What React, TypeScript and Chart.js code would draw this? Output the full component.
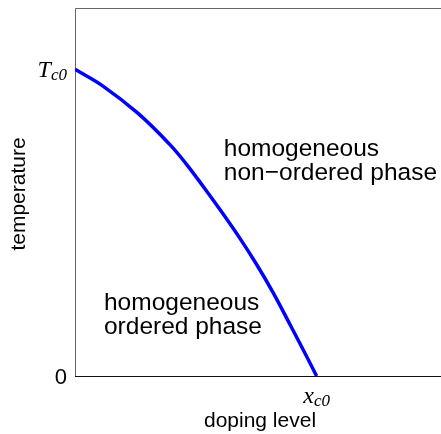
import React, { useEffect, useRef } from "react";
import { Chart, registerables } from "chart.js";

Chart.register(...registerables);

// curve (doping level relative to x_c0, temperature relative to T_c0)
const dopingLevels = [0, 0.12, 0.26, 0.39, 0.46, 0.53, 0.6, 0.68, 0.75, 0.82, 0.89, 0.96, 1.0];
const temperatures = [1.0, 0.943, 0.857, 0.757, 0.692, 0.619, 0.543, 0.452, 0.366, 0.272, 0.168, 0.062, 0];

const yTickValues = [0, 1];
const yTickMain = ["0", "T"];
const yTickSub = ["", "c0"];
const xTickValues = [1];
const xTickMain = ["x"];
const xTickSub = ["c0"];

const xAxisTitle = "doping level";
const yAxisTitle = "temperature";

const upperRegionLines = ["homogeneous", "non\u2212ordered phase"];
const upperRegionAnchor = [0.616, 0.717];
const lowerRegionLines = ["homogeneous", "ordered phase"];
const lowerRegionAnchor = [0.12, 0.215];

const SANS = '"Liberation Sans", Arial, sans-serif';
const SERIF = '"Liberation Serif", "Times New Roman", serif';

function drawSubLabel(ctx: CanvasRenderingContext2D, main: string, sub: string, x: number, y: number, align: "right" | "center" | "left") {
  if (!sub) {
    ctx.font = `22px ${SANS}`;
    ctx.textAlign = align;
    ctx.textBaseline = "alphabetic";
    ctx.fillText(main, x, y);
    return;
  }
  ctx.font = `italic 24px ${SERIF}`;
  const wMain = ctx.measureText(main).width;
  ctx.font = `italic 17px ${SERIF}`;
  const wSub = ctx.measureText(sub).width;
  const total = wMain + wSub;
  let left = x;
  if (align === "right") left = x - total;
  else if (align === "center") left = x - total / 2;
  ctx.textAlign = "left";
  ctx.textBaseline = "alphabetic";
  ctx.font = `italic 24px ${SERIF}`;
  ctx.fillText(main, left, y);
  ctx.font = `italic 17px ${SERIF}`;
  ctx.fillText(sub, left + wMain, y + 3);
}

const decorPlugin = {
  id: "decor",
  beforeDatasetsDraw(chart: any) {
    const { ctx, chartArea } = chart;
    const { left, top, right, bottom } = chartArea;
    ctx.save();
    ctx.lineWidth = 1;
    ctx.strokeStyle = "#666";
    ctx.beginPath();
    ctx.moveTo(Math.round(left) + 0.5, Math.round(bottom));
    ctx.lineTo(Math.round(left) + 0.5, Math.round(top) + 0.5);
    ctx.lineTo(right, Math.round(top) + 0.5);
    ctx.stroke();
    ctx.restore();
  },
  afterDraw(chart: any) {
    const { ctx, chartArea, scales } = chart;
    const xs = scales.x;
    const ys = scales.y;
    ctx.save();
    // bottom axis line
    ctx.lineWidth = 1;
    ctx.strokeStyle = "#111";
    ctx.beginPath();
    ctx.moveTo(chartArea.left, Math.round(chartArea.bottom) + 0.5);
    ctx.lineTo(chartArea.right, Math.round(chartArea.bottom) + 0.5);
    ctx.stroke();

    ctx.fillStyle = "#000";
    // y ticks
    yTickValues.forEach((v, i) => {
      const py = ys.getPixelForValue(v);
      drawSubLabel(ctx, yTickMain[i], yTickSub[i], chartArea.left - 8, py + 8, "right");
    });
    // x ticks
    xTickValues.forEach((v, i) => {
      const px = xs.getPixelForValue(v);
      drawSubLabel(ctx, xTickMain[i], xTickSub[i], px, chartArea.bottom + 27, "center");
    });

    // axis titles
    ctx.font = `21px ${SANS}`;
    ctx.textAlign = "center";
    ctx.textBaseline = "alphabetic";
    ctx.fillText(xAxisTitle, (chartArea.left + chartArea.right) / 2 + 2, chartArea.bottom + 51);
    ctx.save();
    ctx.translate(25, (chartArea.top + chartArea.bottom) / 2 + 2);
    ctx.rotate(-Math.PI / 2);
    ctx.fillText(yAxisTitle, 0, 0);
    ctx.restore();

    // region labels
    ctx.font = `24.5px ${SANS}`;
    ctx.textAlign = "left";
    const drawRegion = (lines: string[], anchor: number[]) => {
      const px = xs.getPixelForValue(anchor[0]);
      const py = ys.getPixelForValue(anchor[1]);
      lines.forEach((t, i) => ctx.fillText(t, px, py + i * 23.5));
    };
    drawRegion(upperRegionLines, upperRegionAnchor);
    drawRegion(lowerRegionLines, lowerRegionAnchor);
    ctx.restore();
  },
};

export default function App() {
  const ref = useRef<HTMLCanvasElement | null>(null);
  useEffect(() => {
    if (!ref.current) return;
    const chart = new Chart(ref.current, {
      type: "line",
      data: {
        datasets: [
          {
            data: dopingLevels.map((x, i) => ({ x, y: temperatures[i] })),
            borderColor: "#0000ff",
            borderWidth: 3.5,
            pointRadius: 0,
            tension: 0.4,
            fill: false,
          },
        ],
      },
      options: {
        animation: false,
        responsive: false,
        events: [],
        layout: { padding: { top: 8, left: 0, right: 0, bottom: 0 } },
        plugins: { legend: { display: false }, tooltip: { enabled: false } },
        scales: {
          x: {
            type: "linear",
            min: 0,
            max: 1.515,
            grid: { display: false },
            border: { display: false },
            ticks: { display: false },
            afterFit: (s: any) => {
              s.height = 58;
            },
          },
          y: {
            type: "linear",
            min: 0,
            max: 1.2,
            grid: { display: false },
            border: { display: false },
            ticks: { display: false },
            afterFit: (s: any) => {
              s.width = 75;
            },
          },
        },
      } as any,
      plugins: [decorPlugin],
    });
    return () => chart.destroy();
  }, []);
  return (
    <div style={{ position: "absolute", left: 0, top: 0, width: 441, height: 434, background: "#fff" }}>
      <canvas ref={ref} width={441} height={434} style={{ display: "block" }} />
    </div>
  );
}
